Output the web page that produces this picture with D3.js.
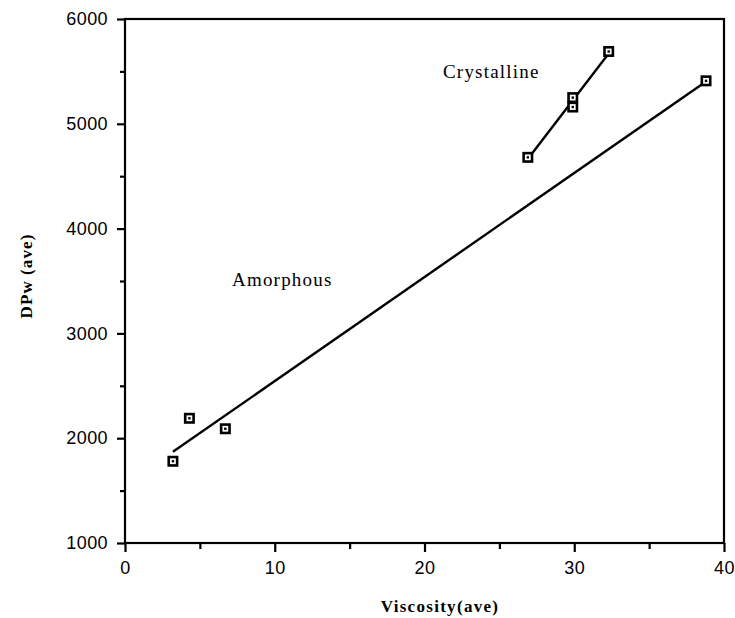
<!DOCTYPE html>
<html><head><meta charset="utf-8">
<script src="https://cdn.jsdelivr.net/npm/d3@7"></script>
<style>
html,body{margin:0;padding:0;background:#fff;}
svg{display:block;}
</style></head>
<body>
<script>
// Data
const amorphousX = [3.2, 4.3, 6.7, 38.8];
const amorphousY = [1780, 2190, 2090, 5410];
const crystallineX = [26.9, 29.9, 29.9, 32.3];
const crystallineY = [4680, 5250, 5160, 5690];
const xTicks = [0, 10, 20, 30, 40];
const yTicks = [1000, 2000, 3000, 4000, 5000, 6000];
const groupLabels = ["Amorphous", "Crystalline"];
const xTitle = "Viscosity(ave)";
const yTitle = "DPw (ave)";

const W = 735, H = 618;
const m = {left: 125, right: 11, top: 19, bottom: 75};
const svg = d3.select("body").append("svg").attr("width", W).attr("height", H);

const x = d3.scaleLinear().domain([0, 40]).range([m.left, W - m.right]);
const y = d3.scaleLinear().domain([1000, 6000]).range([H - m.bottom, m.top]);

const ink = "#000";
const g = svg.append("g");

// frame
g.append("rect").attr("x", x(0)).attr("y", y(6000)).attr("width", x(40) - x(0)).attr("height", y(1000) - y(6000))
  .attr("fill", "none").attr("stroke", ink).attr("stroke-width", 2.2);

// x axis
g.append("g").attr("transform", `translate(0,${y(1000)})`)
  .call(d3.axisBottom(x).tickValues(xTicks).tickSize(9).tickPadding(9).tickFormat(d3.format("d")));
g.append("g").attr("transform", `translate(0,${y(1000)})`)
  .call(d3.axisBottom(x).tickValues(d3.range(5, 40, 10)).tickSize(6).tickFormat(""));
// y axis
g.append("g").attr("transform", `translate(${x(0)},0)`)
  .call(d3.axisLeft(y).tickValues(yTicks).tickSize(8).tickPadding(9).tickFormat(d3.format("d")));
g.append("g").attr("transform", `translate(${x(0)},0)`)
  .call(d3.axisLeft(y).tickValues(d3.range(1500, 6000, 1000)).tickSize(5).tickFormat(""));

g.selectAll(".domain").remove();
g.selectAll(".tick line").attr("stroke", ink).attr("stroke-width", 2.2);
g.selectAll(".tick text").attr("fill", ink)
  .style("font-family", "'Liberation Sans', Arial, sans-serif").style("font-size", "18px").style("letter-spacing", "0.4px");

// regression lines
function fit(xs, ys) {
  const mx = d3.mean(xs), my = d3.mean(ys);
  const sxy = d3.sum(xs, (v, i) => (v - mx) * (ys[i] - my));
  const sxx = d3.sum(xs, v => (v - mx) * (v - mx));
  const b = sxy / sxx, a = my - b * mx;
  const x0 = d3.min(xs), x1 = d3.max(xs);
  return [[x0, a + b * x0], [x1, a + b * x1]];
}
const line = d3.line().x(d => x(d[0])).y(d => y(d[1]));
[[amorphousX, amorphousY], [crystallineX, crystallineY]].forEach(([xs, ys]) => {
  g.append("path").attr("d", line(fit(xs, ys))).attr("fill", "none").attr("stroke", ink).attr("stroke-width", 2.4);
});

// markers
function markers(xs, ys) {
  const pts = xs.map((v, i) => [v, ys[i]]);
  const mk = g.append("g").selectAll("g").data(pts).join("g")
    .attr("transform", d => `translate(${x(d[0])},${y(d[1])})`);
  mk.append("rect").attr("x", -4.2).attr("y", -4.2).attr("width", 8.4).attr("height", 8.4)
    .attr("fill", "#fff").attr("stroke", ink).attr("stroke-width", 2.6);
  mk.append("rect").attr("x", -1.2).attr("y", -1.2).attr("width", 2.4).attr("height", 2.4).attr("fill", ink);
}
markers(amorphousX, amorphousY);
markers(crystallineX, crystallineY);

// labels
const serif = "'Liberation Serif', 'Times New Roman', serif";
g.append("text").attr("x", 232).attr("y", 286).text(groupLabels[0])
  .style("font-family", serif).style("font-size", "19px").style("letter-spacing", "1.2px").attr("fill", ink);
g.append("text").attr("x", 443).attr("y", 78).text(groupLabels[1])
  .style("font-family", serif).style("font-size", "19px").style("letter-spacing", "1.2px").attr("fill", ink);

g.append("text").attr("x", 440).attr("y", 612).attr("text-anchor", "middle").text(xTitle)
  .style("font-family", serif).style("font-size", "17px").style("font-weight", "bold").style("letter-spacing", "1.3px").attr("fill", ink);
g.append("text").attr("transform", "translate(32,276) rotate(-90)").attr("text-anchor", "middle").text(yTitle)
  .style("font-family", serif).style("font-size", "17px").style("font-weight", "bold").style("letter-spacing", "1.1px").attr("fill", ink);
</script>
</body></html>
